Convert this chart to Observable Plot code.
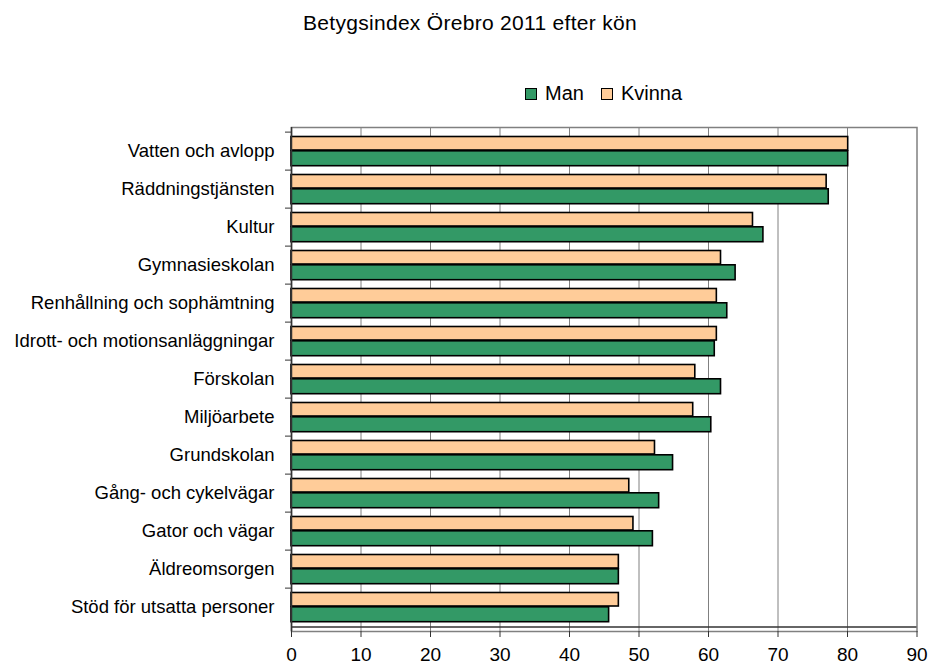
<!DOCTYPE html>
<html>
<head>
<meta charset="utf-8">
<script src="https://cdn.jsdelivr.net/npm/d3@7"></script>
<script src="https://cdn.jsdelivr.net/npm/@observablehq/plot@0.6"></script>
<style>
  html, body { margin: 0; padding: 0; background: #fff; overflow: hidden; }
  body { width: 931px; height: 670px; font-family: "Liberation Sans", Arial, sans-serif; color: #000; }
  #title { box-sizing: border-box; width: 931px; height: 60px; padding: 12px 0 0 9px; text-align: center;
           font-size: 21px; line-height: 21px; letter-spacing: 0.3px; }
  #legend { box-sizing: border-box; width: 931px; height: 50px; padding: 16px 0 0 525px; display: flex;
            align-items: center; font-size: 20px; line-height: 20px; }
  #legend .sw { width: 10px; height: 10px; border: 1.5px solid #000; margin-right: 8px; margin-top: 2px; }
  #legend .item { display: flex; align-items: center; margin-right: 17px; }
  #chart svg { display: block; }
</style>
</head>
<body>
<div id="title">Betygsindex Örebro 2011 efter kön</div>
<div id="legend"></div>
<div id="chart"></div>
<script>
const categories = [
  "Vatten och avlopp",
  "Räddningstjänsten",
  "Kultur",
  "Gymnasieskolan",
  "Renhållning och sophämtning",
  "Idrott- och motionsanläggningar",
  "Förskolan",
  "Miljöarbete",
  "Grundskolan",
  "Gång- och cykelvägar",
  "Gator och vägar",
  "Äldreomsorgen",
  "Stöd för utsatta personer"
];
const man    = [80.1, 77.3, 67.9, 63.9, 62.7, 60.9, 61.8, 60.4, 54.9, 52.9, 52.0, 47.1, 45.7];
const kvinna = [80.1, 77.0, 66.4, 61.8, 61.2, 61.2, 58.1, 57.8, 52.3, 48.6, 49.2, 47.1, 47.1];
const seriesNames = ["Man", "Kvinna"];
const seriesColors = ["#339966", "#FFCC99"];
const xTicks = [0, 10, 20, 30, 40, 50, 60, 70, 80, 90];

// legend
const legend = document.getElementById("legend");
seriesNames.forEach((name, i) => {
  const item = document.createElement("div");
  item.className = "item";
  const sw = document.createElement("div");
  sw.className = "sw";
  sw.style.background = seriesColors[i];
  const label = document.createElement("span");
  label.textContent = name;
  item.appendChild(sw);
  item.appendChild(label);
  legend.appendChild(item);
});

const H = 560, mTop = 17, mBottom = 39;
const band = (H - mTop - mBottom) / categories.length;

const chart = Plot.plot({
  width: 931,
  height: H,
  marginTop: mTop,
  marginBottom: mBottom,
  marginLeft: 291,
  marginRight: 14.5,
  style: {fontFamily: "'Liberation Sans', Arial, sans-serif", color: "#000", background: "#fff", overflow: "visible"},
  x: {domain: [0, 90]},
  y: {domain: categories, paddingInner: 0, paddingOuter: 0},
  marks: [
    Plot.gridX({ticks: xTicks.filter(t => t > 0 && t < 90), stroke: "#808080", strokeOpacity: 1, strokeWidth: 1}),
    Plot.frame({stroke: "#808080", strokeWidth: 1.5}),
    Plot.barX(categories, {y: categories, x: kvinna, fill: seriesColors[1], stroke: "#000", strokeWidth: 1.6, insetTop: 4.5, insetBottom: 20}),
    Plot.barX(categories, {y: categories, x: man, fill: seriesColors[0], stroke: "#000", strokeWidth: 1.6, insetTop: 18.8, insetBottom: 4.3}),
    Plot.ruleX([0], {stroke: "#333", strokeWidth: 1.5}),
    Plot.ruleY([categories[categories.length - 1]], {dy: band / 2, stroke: "#333", strokeWidth: 1.5}),
    Plot.axisX({ticks: xTicks, tickSize: 6, tickPadding: 10, fontSize: 19, label: null, stroke: "#333"}),
    Plot.axisY({tickSize: 0, tickPadding: 17, fontSize: 18.5, label: null}),
    Plot.axisY({tickSize: 6, tickFormat: () => "", dy: -band / 2, label: null, stroke: "#333"})
  ]
});
document.getElementById("chart").appendChild(chart);
</script>
</body>
</html>
